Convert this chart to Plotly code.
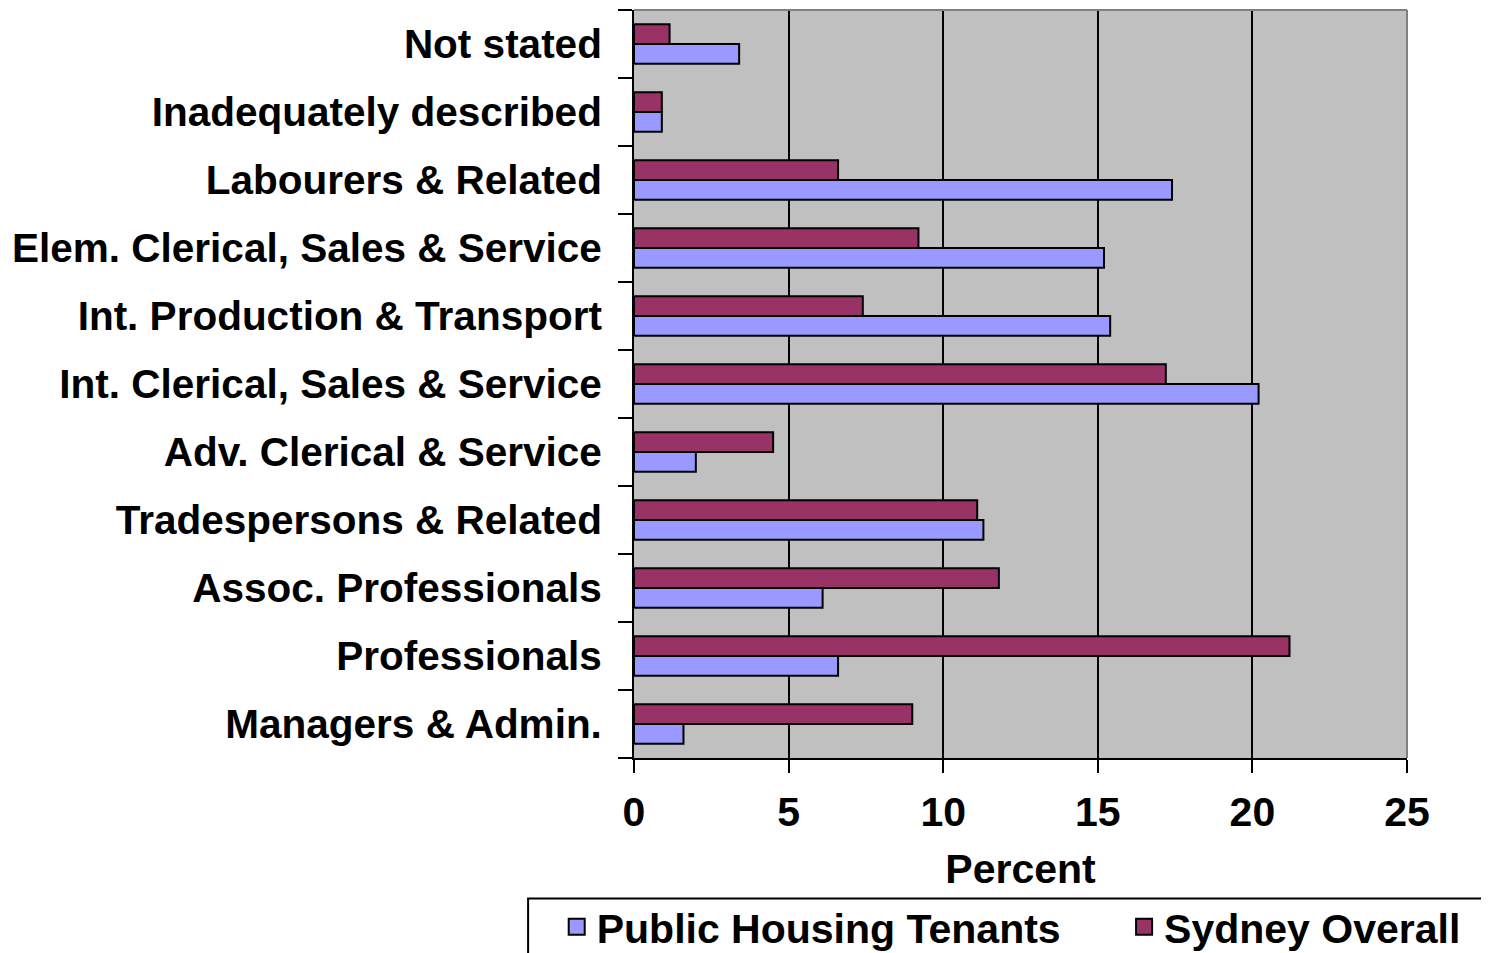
import plotly.graph_objects as go

# occupation categories, bottom to top as drawn
categories = [
    "Managers & Admin.",
    "Professionals",
    "Assoc. Professionals",
    "Tradespersons & Related",
    "Adv. Clerical & Service",
    "Int. Clerical, Sales & Service",
    "Int. Production & Transport",
    "Elem. Clerical, Sales & Service",
    "Labourers & Related",
    "Inadequately described",
    "Not stated",
]

public_housing = [1.6, 6.6, 6.1, 11.3, 2.0, 20.2, 15.4, 15.2, 17.4, 0.9, 3.4]
sydney_overall = [9.0, 21.2, 11.8, 11.1, 4.5, 17.2, 7.4, 9.2, 6.6, 0.9, 1.15]

x_ticks = [0, 5, 10, 15, 20, 25]

FONT = "Arial, Liberation Sans, sans-serif"
BLUE = "#9999FF"
PLUM = "#993366"

fig = go.Figure()
fig.add_trace(go.Bar(
    y=categories, x=public_housing, orientation="h",
    name="Public Housing Tenants", showlegend=False,
    marker=dict(color=BLUE, line=dict(color="black", width=2)),
))
fig.add_trace(go.Bar(
    y=categories, x=sydney_overall, orientation="h",
    name="Sydney Overall", showlegend=False,
    marker=dict(color=PLUM, line=dict(color="black", width=2)),
))

# legend swatches (square markers, one per legend box)
fig.add_trace(go.Scatter(
    x=[None], y=[None], mode="markers", name="Public Housing Tenants",
    marker=dict(symbol="square", size=19, color=BLUE, line=dict(color="black", width=2)),
    legend="legend",
))
fig.add_trace(go.Scatter(
    x=[None], y=[None], mode="markers", name="Sydney Overall",
    marker=dict(symbol="square", size=19, color=PLUM, line=dict(color="black", width=2)),
    legend="legend2",
))

# gray frame on top and right, box around legend
fig.add_shape(type="line", xref="paper", yref="paper", x0=0, x1=1, y0=1, y1=1,
              line=dict(color="#808080", width=2))
fig.add_shape(type="line", xref="paper", yref="paper", x0=1, x1=1, y0=0, y1=1,
              line=dict(color="#808080", width=2))
fig.add_shape(type="rect", xref="paper", yref="paper",
              x0=-0.137, x1=1.2, y0=-0.35, y1=-0.188,
              line=dict(color="black", width=2))

leg_common = dict(
    orientation="h", y=-0.226, yanchor="middle", xanchor="left",
    font=dict(size=41, weight="bold"), bgcolor="rgba(0,0,0,0)",
    itemsizing="trace",
)

fig.update_layout(
    width=1481, height=945,
    margin=dict(l=626, r=82, t=2, b=195, autoexpand=False),
    paper_bgcolor="white",
    plot_bgcolor="#C0C0C0",
    barmode="group",
    bargap=0.42,
    bargroupgap=0,
    font=dict(family=FONT, color="black", size=40, weight="bold"),
    showlegend=True,
    legend=dict(x=-0.100, **leg_common),
    legend2=dict(x=0.634, **leg_common),
    xaxis=dict(
        range=[0, 25], tickvals=x_ticks,
        showgrid=True, gridcolor="black", gridwidth=2,
        zeroline=False,
        showline=True, linecolor="black", linewidth=2,
        ticks="outside", ticklen=13, tickwidth=2, tickcolor="black",
        ticklabelstandoff=4,
        tickfont=dict(size=41, weight="bold"),
        title=dict(text="Percent", font=dict(size=41, weight="bold"), standoff=20),
    ),
    yaxis=dict(
        categoryorder="array", categoryarray=categories,
        showgrid=False, zeroline=False,
        showline=True, linecolor="black", linewidth=2,
        ticks="outside", ticklen=14, tickwidth=2, tickcolor="black",
        tickson="boundaries",
        ticklabelstandoff=22,
        tickfont=dict(size=40.5, weight="bold"),
    ),
)

fig.write_html("out.html")
